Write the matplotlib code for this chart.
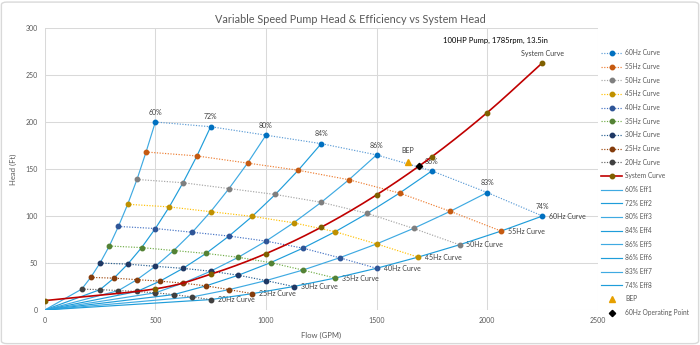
"""
Variable speed pump curves with efficiency lines and system curve.
"""

import numpy as np
import matplotlib.pyplot as plt
from matplotlib.patches import FancyBboxPatch

plt.rcParams['font.family'] = ['Lato', 'DejaVu Sans']

# Pump head curves at each drive frequency (flow in GPM, head in ft)
flow_60 = [500, 750, 1000, 1250, 1500, 1750, 2000, 2250]
head_60 = [200, 195, 186, 177, 165, 148, 125, 100]
flow_55 = [458, 688, 917, 1146, 1375, 1604, 1833, 2063]
head_55 = [168.1, 163.9, 156.3, 148.7, 138.6, 124.4, 105.0, 84.0]
flow_50 = [417, 625, 833, 1042, 1250, 1458, 1667, 1875]
head_50 = [138.9, 135.4, 129.2, 122.9, 114.6, 102.8, 86.8, 69.4]
flow_45 = [375, 563, 750, 938, 1125, 1313, 1500, 1688]
head_45 = [112.5, 109.7, 104.6, 99.6, 92.8, 83.3, 70.3, 56.3]
flow_40 = [333, 500, 667, 833, 1000, 1167, 1333, 1500]
head_40 = [88.9, 86.7, 82.7, 78.7, 73.3, 65.8, 55.6, 44.4]
flow_35 = [292, 438, 583, 729, 875, 1021, 1167, 1313]
head_35 = [68.1, 66.4, 63.3, 60.2, 56.1, 50.4, 42.5, 34.0]
flow_30 = [250, 375, 500, 625, 750, 875, 1000, 1125]
head_30 = [50.0, 48.8, 46.5, 44.3, 41.3, 37.0, 31.3, 25.0]
flow_25 = [208, 313, 417, 521, 625, 729, 833, 938]
head_25 = [34.7, 33.9, 32.3, 30.7, 28.6, 25.7, 21.7, 17.4]
flow_20 = [167, 250, 333, 417, 500, 583, 667, 750]
head_20 = [22.2, 21.7, 20.7, 19.7, 18.3, 16.4, 13.9, 11.1]

speed_names = ['60Hz', '55Hz', '50Hz', '45Hz', '40Hz', '35Hz', '30Hz', '25Hz', '20Hz']
line_colors = ['#5B9BD5', '#ED7D31', '#A5A5A5', '#FFC000', '#4472C4',
               '#70AD47', '#255E91', '#9E480E', '#636363']
marker_colors = ['#0070C0', '#C55A11', '#7F7F7F', '#BF9000', '#2F5597',
                 '#548235', '#1F3864', '#843C0C', '#404040']

# Efficiency at each point along the full speed curve
eff_labels = ['60%', '72%', '80%', '84%', '86%', '86%', '83%', '74%']

# System curve
system_flow = [0, 500, 750, 1000, 1250, 1500, 1750, 2000, 2250]
system_head = [10, 22.5, 38.1, 60, 88.1, 122.5, 163.1, 210, 263.1]

bep_flow, bep_head = 1640, 157
op_flow, op_head = 1690, 153


def smooth(x, y, n=24):
    """Catmull-Rom spline through the given points (for a smoothed line)."""
    pts = np.column_stack([x, y]).astype(float)
    p = np.vstack([2 * pts[0] - pts[1], pts, 2 * pts[-1] - pts[-2]])
    t = np.linspace(0, 1, n, endpoint=False)[:, None]
    out = []
    for i in range(1, len(p) - 2):
        p0, p1, p2, p3 = p[i - 1], p[i], p[i + 1], p[i + 2]
        seg = 0.5 * (2 * p1 + (-p0 + p2) * t
                     + (2 * p0 - 5 * p1 + 4 * p2 - p3) * t ** 2
                     + (-p0 + 3 * p1 - 3 * p2 + p3) * t ** 3)
        out.append(seg)
    out.append(pts[-1:])
    arr = np.vstack(out)
    return arr[:, 0], arr[:, 1]


def main():
    flows = [flow_60, flow_55, flow_50, flow_45, flow_40, flow_35, flow_30, flow_25, flow_20]
    heads = [head_60, head_55, head_50, head_45, head_40, head_35, head_30, head_25, head_20]

    fig = plt.figure(figsize=(7, 3.45), dpi=100)
    ax = fig.add_axes([0.0639, 0.1014, 0.7901, 0.8174])

    handles = []
    # Constant-speed curves (dotted with markers)
    for name, q, h, lc, mc in zip(speed_names, flows, heads, line_colors, marker_colors):
        ln, = ax.plot(q, h, linestyle=(0, (1, 1.3)), color=lc, lw=0.85,
                      marker='o', ms=3.2, mfc=mc, mec=mc, zorder=4,
                      label=f'{name} Curve')
        handles.append(ln)
        ax.annotate(f'{name} Curve', (q[-1], h[-1]), xytext=(5, 0),
                    textcoords='offset points', va='center', ha='left',
                    fontsize=5, color='#404040')

    # System curve
    sx, sy = smooth(system_flow, system_head)
    ax.plot(sx, sy, color='#C00000', lw=1.2, zorder=5)
    ax.plot(system_flow, system_head, ls='none', marker='o', ms=3.2,
            mfc='#7F6000', mec='#7F6000', zorder=6)
    sys_handle, = ax.plot([], [], color='#C00000', lw=1.2, marker='o', ms=3.2,
                          mfc='#7F6000', mec='#7F6000', label='System Curve')
    handles.append(sys_handle)
    ax.annotate('System Curve', (system_flow[-1], system_head[-1]), xytext=(0, 6.5),
                textcoords='offset points', ha='center', va='center',
                fontsize=5, color='#404040')

    # Efficiency lines run from the origin through the same point on each speed curve
    eff_colors = ['#3FAAE2', '#1F9DDA']
    for i, lab in enumerate(eff_labels):
        q = [0] + [f[i] for f in flows[::-1]]
        h = [0] + [hh[i] for hh in heads[::-1]]
        ln, = ax.plot(q, h, color=eff_colors[i % 2], lw=0.85, zorder=3,
                      label=f'{lab} Eff{i + 1}')
        handles.append(ln)
        ax.annotate(lab, (flow_60[i], head_60[i]), xytext=(0, 7),
                    textcoords='offset points', ha='center', va='center',
                    fontsize=5, color='#404040')

    bep, = ax.plot([bep_flow], [bep_head], ls='none', marker='^', ms=4.6,
                   color='#E6A000', zorder=7, label='BEP')
    handles.append(bep)
    ax.annotate('BEP', (bep_flow, bep_head), xytext=(0, 8.5),
                textcoords='offset points', ha='center', va='center',
                fontsize=5, color='#404040')
    op, = ax.plot([op_flow], [op_head], ls='none', marker='D', ms=3.2,
                  color='black', zorder=8, label='60Hz Operating Point')
    handles.append(op)

    ax.text(1800, 287, '100HP Pump, 1785rpm, 13.5in', fontsize=5.5,
            color='black', va='center', ha='left')

    ax.set_xlim(0, 2500)
    ax.set_ylim(0, 300)
    ax.set_xticks(np.arange(0, 2501, 500))
    ax.set_yticks(np.arange(0, 301, 50))
    ax.grid(True, color='#D9D9D9', lw=0.75)
    ax.set_axisbelow(True)
    for s in ax.spines.values():
        s.set_visible(False)
    ax.tick_params(length=0, labelsize=5, labelcolor='#595959', pad=5)
    ax.set_xlabel('Flow (GPM)', fontsize=5.5, color='#595959', labelpad=6)
    ax.set_ylabel('Head (Ft)', fontsize=5.5, color='#595959', labelpad=6)

    fig.suptitle('Variable Speed Pump Head & Efficiency vs System Head',
                 x=0.5, y=0.96, fontsize=7.8, color='#595959')

    fig.legend(handles=handles, loc='upper left', bbox_to_anchor=(0.859, 0.857),
               frameon=False, fontsize=4.8, handlelength=3.1, handletextpad=0.5,
               labelspacing=1.0, borderpad=0, borderaxespad=0, numpoints=1,
               labelcolor='#595959')

    fig.patches.append(FancyBboxPatch((0.002, 0.004), 0.996, 0.99,
                                      boxstyle='round,pad=0,rounding_size=0.008',
                                      transform=fig.transFigure, fill=False,
                                      edgecolor='#D9D9D9', lw=1))
    fig.savefig('out.png', dpi=100)


if __name__ == "__main__":
    main()
